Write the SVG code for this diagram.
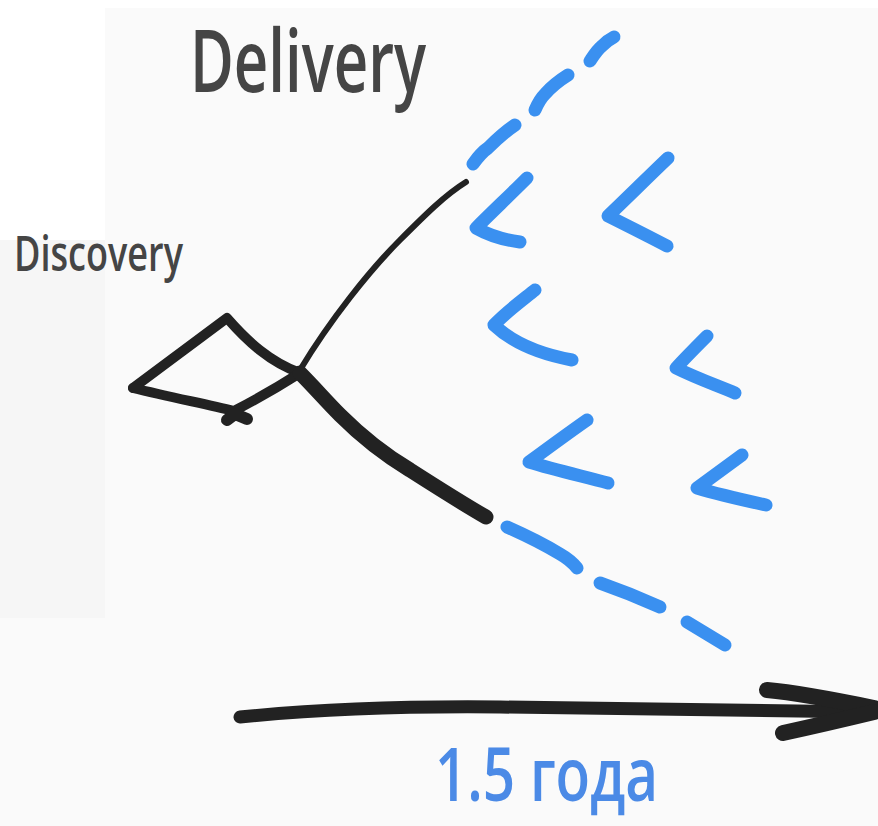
<svg xmlns="http://www.w3.org/2000/svg" width="878" height="826" viewBox="0 0 878 826">
  <style>
    .ink { fill: none; stroke: #222; stroke-linecap: round; stroke-linejoin: round; }
    .blue { fill: none; stroke: #3a90f0; stroke-linecap: round; stroke-linejoin: round; stroke-width: 13; }
    .label { font-family: "Open Sans", "Liberation Sans", sans-serif; font-weight: 600; fill: #454545; }
    .time { font-family: "Open Sans", "Liberation Sans", sans-serif; font-weight: 600; fill: #4b8ae6; }
  </style>

  <!-- paper -->
  <g id="background">
    <rect x="0" y="0" width="878" height="826" fill="#fafafa"/>
    <rect x="0" y="0" width="878" height="8" fill="#ffffff"/>
    <rect x="0" y="0" width="105" height="240" fill="#ffffff"/>
    <rect x="0" y="240" width="105" height="378" fill="#f6f6f6"/>
  </g>

  <!-- labels -->
  <g id="delivery-label">
    <text class="label" x="190" y="92" font-size="86" textLength="236" lengthAdjust="spacingAndGlyphs">Delivery</text>
  </g>
  <g id="discovery-label">
    <text class="label" x="14" y="271" font-size="49" textLength="169" lengthAdjust="spacingAndGlyphs">Discovery</text>
  </g>
  <g id="time-label">
    <text class="time" x="435" y="801" font-size="74" textLength="223" lengthAdjust="spacingAndGlyphs">1.5 года</text>
  </g>

  <!-- discovery kite -->
  <g id="discovery-kite">
    <path class="ink" stroke-width="10" d="M133,388 L227,318 C248,342 270,362 300,373"/>
    <path class="ink" stroke-width="10" d="M133,388 C170,397 205,404 234,411 C255,400 278,387 300,373"/>
    <path class="ink" stroke-width="12" d="M227,420 L235,414 L247,419"/>
  </g>

  <!-- delivery branches -->
  <g id="connectors">
    <path class="ink" stroke-width="6" d="M300,370 C330,320 370,270 400,240 C425,215 445,195 466,182"/>
    <path class="ink" stroke-width="15" d="M300,373 C315,388 325,400 340,415 C360,435 380,452 410,470 C435,486 460,502 486,517"/>
    <!-- upper dashed projection -->
    <path class="blue" stroke-width="9" d="M473,164 C478,157 482,152 488,148 C497,139 506,131 515,125"/>
    <path class="blue" stroke-width="9" d="M535,110 C538,103 541,98 545,94 C552,86 560,80 568,75"/>
    <path class="blue" stroke-width="9" d="M590,61 C594,55 597,50 602,46 C606,42 610,39 614,37"/>
    <!-- lower dashed projection -->
    <path class="blue" stroke-width="14" d="M507,527 C525,535 545,545 560,554 C567,558 573,563 577,568"/>
    <path class="blue" stroke-width="14" d="M600,583 C620,590 640,598 660,607"/>
    <path class="blue" stroke-width="14" d="M687,622 C700,630 712,637 725,645"/>
    <!-- timeline arrow -->
    <path class="ink" stroke-width="13" d="M240,717 C320,709 400,706 500,707 C620,708 740,710 870,712"/>
    <path class="ink" stroke-width="16" d="M767,690 C800,693 840,701 874,708"/>
    <path class="ink" stroke-width="16" d="M783,733 C815,726 845,719 874,712"/>
  </g>

  <!-- delivery iterations -->
  <g id="iterations">
    <path class="blue" d="M527,178 C510,195 492,212 476,228 C490,236 505,240 520,242"/>
    <path class="blue" d="M668,158 C648,177 628,197 608,216 C628,226 648,236 667,246"/>
    <path class="blue" d="M535,290 C520,302 505,313 494,325 C515,345 545,355 572,360"/>
    <path class="blue" d="M707,336 C696,347 686,357 676,368 C696,378 716,385 735,393"/>
    <path class="blue" d="M587,420 C567,434 548,448 529,462 C555,470 582,476 608,483"/>
    <path class="blue" d="M742,455 C727,466 712,477 697,488 C720,495 743,500 766,505"/>
  </g>
</svg>
